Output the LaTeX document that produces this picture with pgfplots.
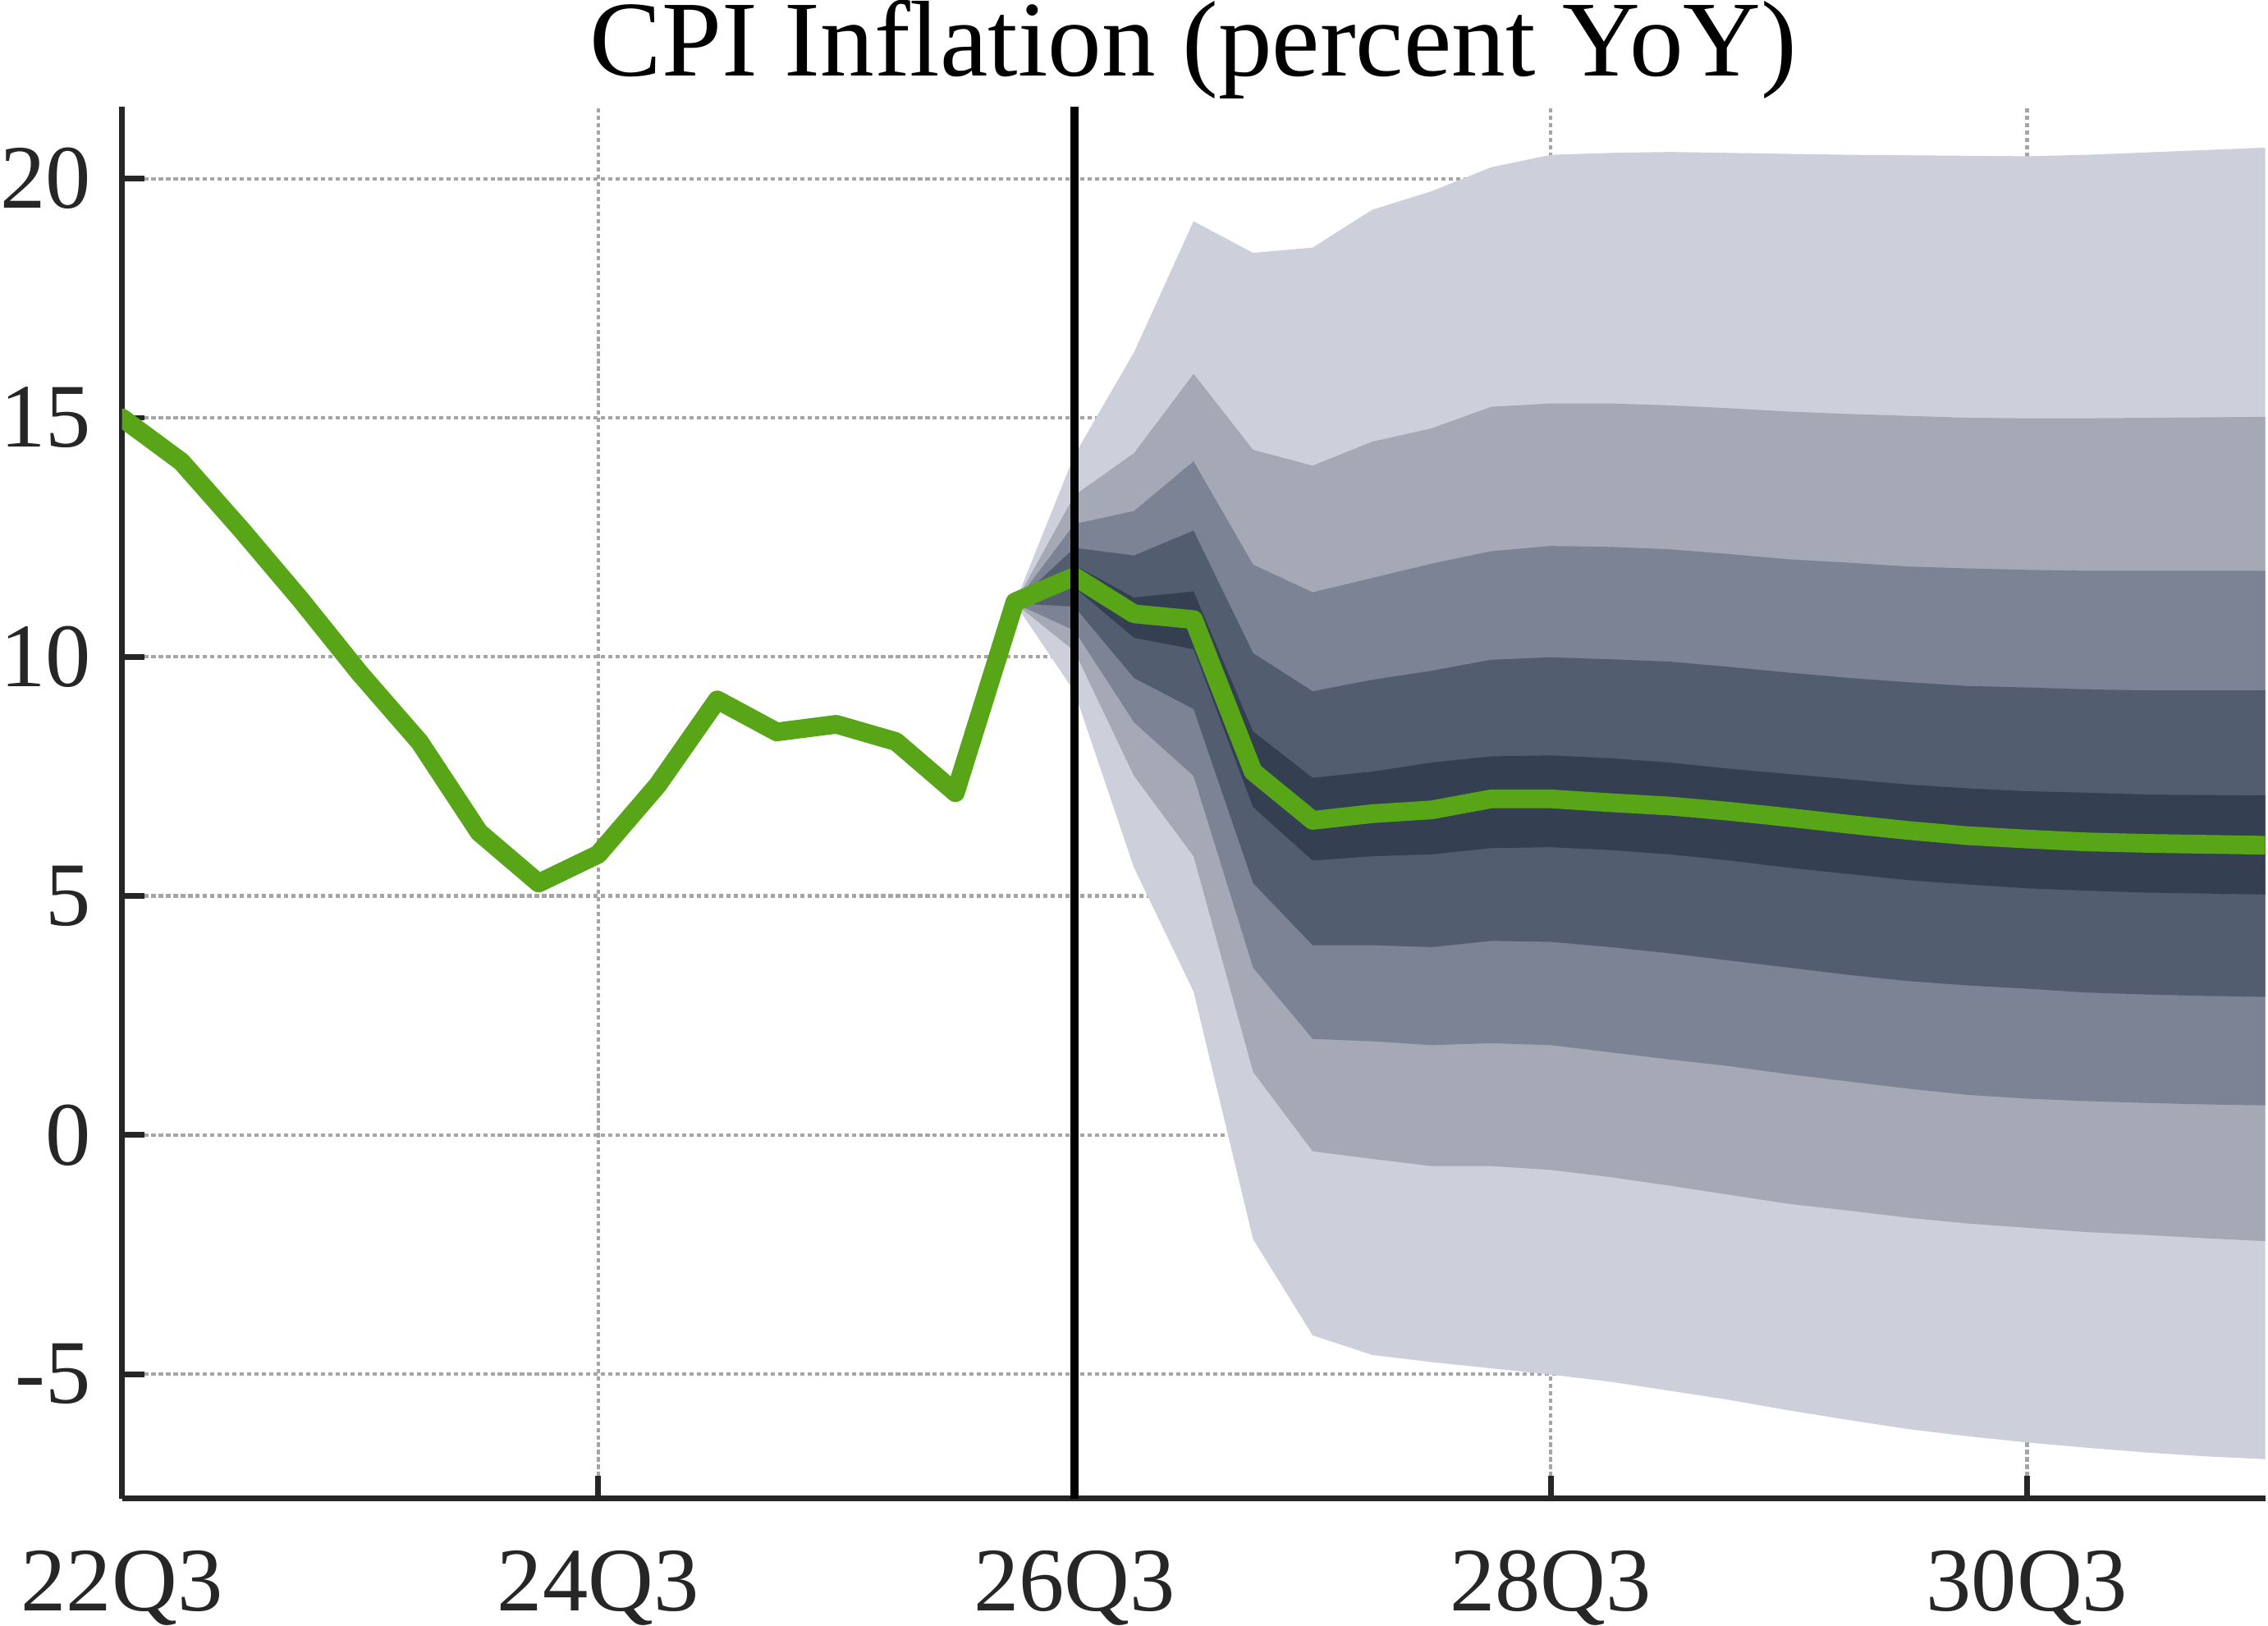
\documentclass[border=0pt]{standalone}
\usepackage{pgfplots}
\pgfplotsset{compat=1.18}
\usepackage{pgfplotstable}
\usepgfplotslibrary{fillbetween}
\usepackage{fontspec}
\setmainfont{Liberation Serif}

\definecolor{txt}{RGB}{38,38,38}
\definecolor{gridc}{RGB}{165,165,165}
\definecolor{fa}{RGB}{205,208,218}
\definecolor{fb}{RGB}{165,169,181}
\definecolor{fc}{RGB}{123,131,149}
\definecolor{fd}{RGB}{82,94,112}
\definecolor{fe}{RGB}{52,64,82}
\definecolor{grn}{RGB}{88,166,24}

\pgfplotstableread{
x  y
0  15.00
1  14.08
2  12.67
3  11.20
4  9.65
5  8.22
6  6.33
7  5.27
8  5.87
9  7.32
10 9.10
11 8.43
12 8.59
13 8.23
14 7.16
15 11.15
16 11.68
17 10.90
18 10.78
19 7.60
20 6.58
21 6.72
22 6.80
23 7.03
24 7.03
25 6.95
26 6.88
27 6.77
28 6.64
29 6.50
30 6.37
31 6.26
32 6.19
33 6.13
34 6.10
35 6.08
36 6.06
}\cpi

\pgfplotstableread{
x  ou    ub    uc    ud    ue    le    ld    lc    lb    ol
15 11.12 11.12 11.12 11.12 11.12 11.12 11.12 11.12 11.12 11.12
16 14.22 13.38 12.78 12.28 11.92 11.45 11.05 10.55 10.12 9.27
17 16.37 14.26 13.05 12.12 11.24 10.40 9.56  8.63  7.51  5.59
18 19.11 15.92 14.09 12.64 11.37 10.16 8.91  7.51  5.83  3.00
19 18.45 14.33 11.93 10.08 8.44  6.86  5.27  3.50  1.32  -2.18
20 18.56 14.00 11.35 9.28  7.47  5.74  3.97  2.01  -0.34 -4.19
21 19.35 14.50 11.65 9.52  7.60  5.83  3.97  1.96  -0.50 -4.60
22 19.74 14.78 11.95 9.71  7.79  5.87  3.93  1.88  -0.65 -4.75
23 20.24 15.23 12.21 9.94  7.92  6.00  4.06  1.92  -0.65 -4.88
24 20.50 15.30 12.32 9.99  7.94  6.02  4.04  1.88  -0.73 -5.01
25 20.54 15.30 12.30 9.95  7.88  5.96  3.93  1.73  -0.88 -5.16
26 20.56 15.26 12.25 9.90  7.79  5.87  3.80  1.58  -1.06 -5.35
27 20.54 15.20 12.15 9.79  7.66  5.74  3.65  1.44  -1.25 -5.54
28 20.52 15.13 12.04 9.67  7.55  5.59  3.50  1.27  -1.44 -5.76
29 20.50 15.08 11.97 9.56  7.44  5.46  3.35  1.12  -1.58 -5.96
30 20.49 15.04 11.89 9.47  7.33  5.33  3.22  0.97  -1.73 -6.15
31 20.48 15.00 11.85 9.39  7.25  5.24  3.13  0.84  -1.85 -6.30
32 20.47 14.99 11.82 9.36  7.19  5.16  3.06  0.76  -1.94 -6.43
33 20.50 14.99 11.80 9.32  7.16  5.11  2.98  0.71  -2.03 -6.54
34 20.55 15.00 11.80 9.30  7.12  5.07  2.94  0.67  -2.09 -6.64
35 20.60 15.01 11.80 9.30  7.11  5.05  2.91  0.64  -2.16 -6.72
36 20.65 15.02 11.80 9.30  7.10  5.03  2.89  0.62  -2.22 -6.78
}\fan

\begin{document}
\begin{tikzpicture}
\begin{axis}[
  scale only axis,
  width=378pt, height=245.4pt,
  xmin=0, xmax=36, ymin=-7.6, ymax=21.5,
  axis lines=left,
  axis line style={-, color=txt, line width=1pt},
  xtick={0,8,16,24,32},
  xticklabels={22Q3,24Q3,26Q3,28Q3,30Q3},
  ytick={-5,0,5,10,15,20},
  yticklabels={-5,0,5,10,15,20},
  tick align=inside,
  major tick length=4pt,
  tick style={color=txt, line width=1pt},
  grid=major,
  major grid style={color=gridc, line width=0.6pt, dash pattern=on 0.75pt off 0.55pt},
  ticklabel style={font=\fontsize{16}{19}\selectfont, color=txt},
  yticklabel style={inner xsep=0pt, xshift=-5.3pt},
  xticklabel style={inner ysep=0pt, yshift=-9pt},
  every axis title shift=0pt,
  title={CPI Inflation (percent YoY)},
  title style={at={(0.5,1)}, anchor=base, yshift=5.5pt, inner sep=0pt,
    font=\fontsize{19}{23}\selectfont, color=black},
]
\addplot[draw=none, name path=ou] table[x=x,y=ou]{\fan};
\addplot[draw=none, name path=ub] table[x=x,y=ub]{\fan};
\addplot[draw=none, name path=uc] table[x=x,y=uc]{\fan};
\addplot[draw=none, name path=ud] table[x=x,y=ud]{\fan};
\addplot[draw=none, name path=ue] table[x=x,y=ue]{\fan};
\addplot[draw=none, name path=le] table[x=x,y=le]{\fan};
\addplot[draw=none, name path=ld] table[x=x,y=ld]{\fan};
\addplot[draw=none, name path=lc] table[x=x,y=lc]{\fan};
\addplot[draw=none, name path=lb] table[x=x,y=lb]{\fan};
\addplot[draw=none, name path=ol] table[x=x,y=ol]{\fan};
\addplot[fill=fa, draw=none] fill between[of=ou and ol];
\addplot[fill=fb, draw=none] fill between[of=ub and lb];
\addplot[fill=fc, draw=none] fill between[of=uc and lc];
\addplot[fill=fd, draw=none] fill between[of=ud and ld];
\addplot[fill=fe, draw=none] fill between[of=ue and le];
\addplot[grn, line width=3.3pt, line join=round, line cap=round] table[x=x,y=y]{\cpi};
\addplot[black, line width=1.4pt] coordinates {(16,-7.6) (16,21.5)};
\end{axis}
\end{tikzpicture}
\end{document}
